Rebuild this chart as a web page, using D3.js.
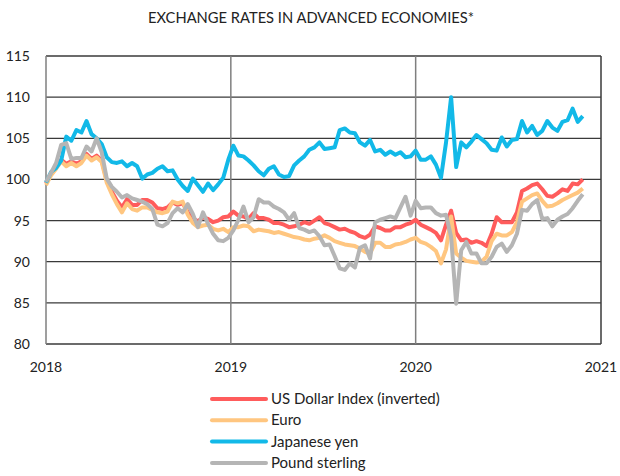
<!DOCTYPE html>
<html>
<head>
<meta charset="utf-8">
<script src="https://cdn.jsdelivr.net/npm/d3@7"></script>
<style>
  body { margin: 0; background: #fff; }
  svg { display: block; font-family: Lato, "Open Sans", sans-serif; }
</style>
</head>
<body>
<script>
// sampled every 10 days from 1 Jan 2018
var startDate = new Date(2018, 0, 1);
var stepDays = 10;

var usdIndex = [
  99.5, 100.7, 101.5, 102.4, 101.9, 102.2, 101.9, 102.2, 103.1, 102.5,
  102.9, 102.3, 99.9, 98.5, 97.4, 96.6, 97.6, 96.9, 96.9, 97.5,
  97.5, 97.2, 96.5, 96.4, 96.6, 97.2, 96.9, 97.1, 96.0, 95.3,
  94.9, 95.4, 95.2, 94.8, 95.0, 95.4, 95.5, 96.1, 95.6, 95.5,
  95.2, 95.9, 95.3, 95.3, 95.1, 94.7, 94.7, 94.5, 94.2, 94.3,
  94.5, 94.8, 94.6, 95.0, 95.4, 94.7, 94.5, 94.2, 93.9, 94.0,
  93.7, 93.5, 93.1, 92.9, 93.3, 94.3, 94.1, 93.8, 93.8, 94.2,
  94.2, 94.5, 94.7, 95.1, 94.5, 94.2, 93.9, 93.5, 92.6, 94.5,
  96.2, 93.5, 92.6, 92.7, 92.3, 92.5, 92.3, 91.9, 93.4, 95.4,
  94.8, 94.8, 94.8, 96.0, 98.6, 98.9, 99.3, 99.5, 98.8, 98.0,
  97.9, 98.3, 98.8, 98.6, 99.5, 99.4, 100.0
];

var euro = [
  99.3, 100.5, 101.3, 102.2, 101.6, 102.0, 101.6, 102.0, 102.9, 102.3,
  102.7, 102.1, 99.6, 98.2, 97.0, 96.0, 97.1, 96.4, 96.2, 96.6,
  96.6, 96.3, 96.0, 95.9, 96.1, 97.3, 97.1, 97.3, 95.7, 94.7,
  94.2, 94.4, 94.5, 94.0, 93.8, 94.0, 93.6, 94.2, 94.2, 94.4,
  94.3, 93.7, 93.9, 93.8, 93.7, 93.5, 93.6, 93.4, 93.2, 93.0,
  92.9, 92.7, 92.6, 92.8, 92.9, 93.2, 92.9, 92.5, 92.3, 92.1,
  92.0, 91.9, 91.6, 91.2, 91.0, 92.3, 92.3, 91.8, 91.8, 92.1,
  92.2, 92.4, 92.7, 92.9, 92.4, 92.2, 91.8, 91.3, 89.8, 91.5,
  95.5, 91.0, 90.5, 90.1, 90.0, 89.9, 90.0, 90.6, 92.5, 93.4,
  93.2, 93.2, 93.6, 94.8, 97.3, 97.7, 98.1, 98.3, 97.4, 96.7,
  96.8, 97.1, 97.5, 97.8, 98.1, 98.4, 98.9
];

var yen = [
  99.6, 100.9, 101.4, 102.3, 105.2, 104.7, 106.0, 105.7, 107.1, 105.5,
  105.0, 104.3, 102.7, 102.1, 102.0, 102.2, 101.6, 102.0, 101.6, 100.1,
  100.6, 100.8, 101.3, 101.6, 101.0, 101.1, 100.0, 99.2, 98.6, 100.1,
  99.3, 98.5, 99.5, 98.7, 99.4, 100.2, 102.4, 104.1, 102.9, 102.8,
  102.3, 101.7, 101.0, 100.5, 101.3, 101.6, 100.6, 100.3, 100.4, 101.7,
  102.3, 102.8, 103.6, 103.9, 104.5, 103.7, 103.8, 103.9, 106.0, 106.2,
  105.7, 105.6, 104.5, 104.1, 104.8, 103.4, 103.6, 103.0, 103.4, 103.0,
  103.3, 102.7, 102.8, 103.5, 102.4, 102.4, 102.8, 101.8, 100.2, 104.5,
  110.0, 101.5, 104.5, 103.9, 104.6, 105.4, 104.9, 104.4, 103.6, 103.5,
  105.1, 104.0, 104.8, 104.9, 107.1, 105.7, 106.5, 105.4, 105.9, 107.1,
  106.3, 105.9, 107.0, 107.2, 108.6, 107.0, 107.7
];

var sterling = [
  99.7, 100.8, 102.0, 104.2, 104.4, 102.5, 102.6, 102.6, 104.0, 103.4,
  105.0, 103.3, 100.1, 99.1, 98.5, 97.8, 98.1, 97.7, 97.5, 97.3,
  97.0, 96.4, 94.5, 94.3, 94.7, 95.9, 96.5, 96.0, 97.0, 95.8,
  94.2, 96.0, 94.6, 93.4, 92.6, 92.5, 92.9, 93.8, 95.1, 96.7,
  94.8, 95.4, 97.6, 97.2, 97.2, 96.7, 96.4, 96.0, 95.1, 95.9,
  94.1, 93.9, 93.6, 93.8, 93.1, 92.0, 92.1, 90.7, 89.2, 89.0,
  89.8, 89.3, 91.7, 92.0, 90.4, 94.8, 95.1, 95.3, 95.5, 95.3,
  96.6, 97.9, 95.6, 97.4, 96.5, 96.6, 96.6, 95.9, 95.6, 95.7,
  93.0, 84.9, 91.4, 92.4, 91.0, 91.0, 89.8, 89.8, 90.6, 91.8,
  92.2, 91.2, 92.0, 93.4, 96.3, 96.2, 97.0, 97.5, 95.2, 95.3,
  94.3, 95.1, 95.5, 95.8, 96.5, 97.4, 98.2
];

var seriesNames = ["US Dollar Index (inverted)", "Euro", "Japanese yen", "Pound sterling"];
var seriesColors = ["#ff5c5c", "#ffc680", "#12b9e8", "#b5b5b5"];
var yTicks = [80, 85, 90, 95, 100, 105, 110, 115];
var xTicks = [2018, 2019, 2020, 2021];

var width = 620,
  height = 476,
  plotLeft = 46,
  plotRight = 601,
  plotTop = 56,
  plotBottom = 344;

var svg = d3
  .select("body")
  .append("svg")
  .attr("width", width)
  .attr("height", height);

var dates = usdIndex.map(function (d, i) {
  return d3.timeDay.offset(startDate, i * stepDays);
});

var x = d3
  .scaleTime()
  .domain([new Date(2018, 0, 1), new Date(2021, 0, 1)])
  .range([plotLeft, plotRight]);

var y = d3.scaleLinear().domain([80, 115]).range([plotBottom, plotTop]);

// title
svg
  .append("text")
  .attr("x", 311)
  .attr("y", 23)
  .attr("text-anchor", "middle")
  .attr("font-size", 15)
  .attr("fill", "#222")
  .attr("textLength", 326)
  .attr("lengthAdjust", "spacingAndGlyphs")
  .text("EXCHANGE RATES IN ADVANCED ECONOMIES*");

// horizontal grid
svg
  .append("g")
  .selectAll("line")
  .data(yTicks)
  .enter()
  .append("line")
  .attr("x1", plotLeft)
  .attr("x2", plotRight)
  .attr("y1", (d) => y(d))
  .attr("y2", (d) => y(d))
  .attr("stroke", "#3a3a3a")
  .attr("stroke-width", 1.3);

// vertical grid at year starts
svg
  .append("g")
  .selectAll("line")
  .data(xTicks)
  .enter()
  .append("line")
  .attr("x1", (d) => x(new Date(d, 0, 1)))
  .attr("x2", (d) => x(new Date(d, 0, 1)))
  .attr("y1", plotTop)
  .attr("y2", plotBottom)
  .attr("stroke", (d) => (d == 2021 ? "#3a3a3a" : "#7f7f7f"))
  .attr("stroke-width", 1.5);

// y labels
svg
  .append("g")
  .selectAll("text")
  .data(yTicks)
  .enter()
  .append("text")
  .attr("x", 30)
  .attr("y", (d) => y(d) + 5)
  .attr("text-anchor", "end")
  .attr("font-size", 14)
  .attr("fill", "#222")
  .text((d) => d);

// x labels
svg
  .append("g")
  .selectAll("text")
  .data(xTicks)
  .enter()
  .append("text")
  .attr("x", (d) => x(new Date(d, 0, 1)))
  .attr("y", 372)
  .attr("text-anchor", "middle")
  .attr("font-size", 14)
  .attr("fill", "#222")
  .text((d) => d);

var line = d3
  .line()
  .x((d, i) => x(dates[i]))
  .y((d) => y(d));

var allSeries = [usdIndex, euro, yen, sterling];

svg
  .append("g")
  .selectAll("path")
  .data(allSeries)
  .enter()
  .append("path")
  .attr("d", (d) => line(d))
  .attr("fill", "none")
  .attr("stroke", (d, i) => seriesColors[i])
  .attr("stroke-width", 4)
  .attr("stroke-linejoin", "round");

// legend
var legend = svg
  .append("g")
  .selectAll("g")
  .data(seriesNames)
  .enter()
  .append("g")
  .attr("transform", (d, i) => "translate(212," + (399 + i * 21.3) + ")");

legend
  .append("line")
  .attr("x1", 0)
  .attr("x2", 54)
  .attr("stroke", (d, i) => seriesColors[i])
  .attr("stroke-width", 4)
  .attr("stroke-linecap", "round");

legend
  .append("text")
  .attr("x", 59)
  .attr("y", 5)
  .attr("font-size", 15)
  .attr("fill", "#222")
  .text((d) => d);
</script>
</body>
</html>
